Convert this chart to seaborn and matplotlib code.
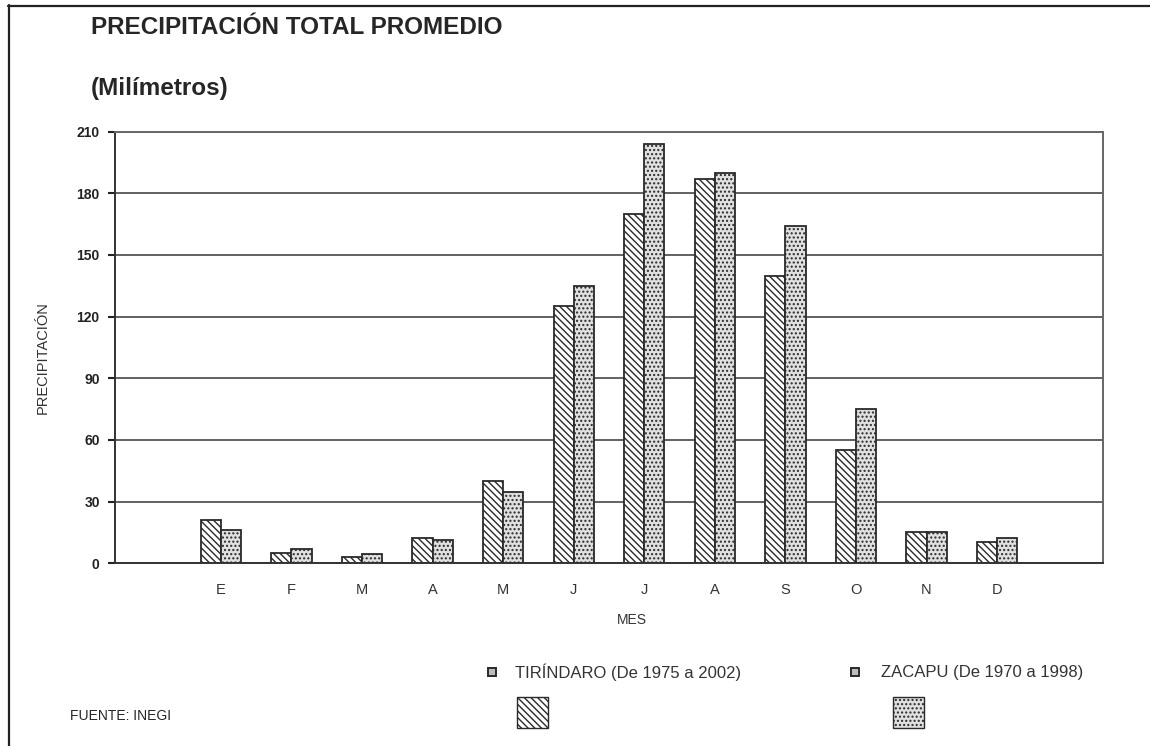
import matplotlib
matplotlib.use("Agg")
import matplotlib.pyplot as plt
import numpy as np
import pandas as pd
import seaborn as sns
from matplotlib.patches import Rectangle
from matplotlib.lines import Line2D

# Monthly mean total precipitation (mm)
claves = ["ENE", "FEB", "MAR", "ABR", "MAY", "JUN", "JUL", "AGO", "SEP", "OCT", "NOV", "DIC"]
etiquetas = ["E", "F", "M", "A", "M", "J", "J", "A", "S", "O", "N", "D"]
tirindaro = [21, 5, 3, 12.5, 40, 125, 170, 187, 140, 55, 15, 10.5]
zacapu = [16, 7, 4.5, 11.5, 34.5, 135, 204, 190, 164, 75, 15, 12.5]
estaciones = ["TIRÍNDARO (De 1975 a 2002)", "ZACAPU (De 1970 a 1998)"]
yticks = [0, 30, 60, 90, 120, 150, 180, 210]

df = pd.DataFrame({
    "mes": claves * 2,
    "mm": tirindaro + zacapu,
    "estacion": [estaciones[0]] * 12 + [estaciones[1]] * 12,
})

sns.set_style("white")
plt.rcParams["font.family"] = ["Liberation Sans", "DejaVu Sans"]
plt.rcParams["hatch.linewidth"] = 1.0

fig = plt.figure(figsize=(11.5, 7.46), dpi=100)
ax = fig.add_axes([0.1, 0.2449, 0.8591, 0.5786])

caras = ["#ffffff", "#e0e0e0"]
tramas = ["\\" * 5, "...."]

sns.barplot(data=df, x="mes", y="mm", hue="estacion", order=claves,
            hue_order=estaciones, palette=caras, width=0.57,
            edgecolor="#2a2a2a", linewidth=1.3, errorbar=None,
            legend=False, ax=ax, saturation=1)

for cont, trama in zip(ax.containers, tramas):
    for barra in cont:
        barra.set_hatch(trama)

ax.set_xlim(-1.5, 12.5)
ax.set_ylim(0, 210)
ax.set_yticks(yticks)
ax.set_yticklabels([str(v) for v in yticks], fontsize=10, fontweight="bold",
                   family=["Liberation Sans Narrow", "Liberation Sans"], color="#222")
ax.set_xticks(range(12))
ax.set_xticklabels(etiquetas, fontsize=10.5, color="#333")
ax.set_xticks(np.arange(-1.5, 13, 1.0), minor=True)
ax.tick_params(axis="x", which="major", length=0, pad=14)
ax.tick_params(axis="x", which="minor", length=5, width=1.2, color="#444", direction="out")
ax.tick_params(axis="y", length=5, width=1.5, color="#222", direction="out", pad=6, left=True)

ax.yaxis.grid(True, color="#555555", linewidth=1.3)
ax.set_axisbelow(True)
for lado, sp in ax.spines.items():
    sp.set_visible(True)
    sp.set_linewidth(1.4)
    sp.set_color("#333" if lado in ("left", "bottom") else "#666")

ax.set_ylabel("PRECIPITACIÓN", fontsize=10.5, color="#333",
              family=["Liberation Sans Narrow", "Liberation Sans"])
ax.yaxis.set_label_coords(-0.066, 0.476)
ax.set_xlabel("MES", fontsize=10, color="#333")
ax.xaxis.set_label_coords(0.523, -0.131)
ax.xaxis.label.set_va("center")

# Titles and source
fig.text(91 / 1150, 1 - 27 / 746, "PRECIPITACIÓN TOTAL PROMEDIO", fontsize=17.5,
         fontweight="bold", va="center", ha="left")
fig.text(91 / 1150, 1 - 89 / 746, "(Milímetros)", fontsize=17.5,
         fontweight="bold", va="center", ha="left")
fig.text(70 / 1150, 1 - 716 / 746, "FUENTE: INEGI", fontsize=10, va="center", ha="left")

# Legend: small marker + text, hatched swatch underneath
W, H = 1150, 746
def caja(x0, y0, w, h, cara, trama, lw=1.0):
    r = Rectangle((x0 / W, 1 - (y0 + h) / H), w / W, h / H, transform=fig.transFigure,
                  facecolor=cara, edgecolor="#2a2a2a", hatch=trama, linewidth=lw)
    fig.add_artist(r)

for i, (xm, xt, xs) in enumerate([(492, 515, 517), (855, 881, 893)]):
    caja(xm - 4, 668, 8, 8, "#bdbdbd", None, lw=1.4)
    fig.text(xt / W, 1 - 672 / H, estaciones[i], fontsize=12, color="#333",
             va="center", ha="left", family=["Liberation Sans Narrow", "Liberation Sans"])
    caja(xs, 697, 31, 31, caras[i], tramas[i])

# Frame around the figure
fig.add_artist(Line2D([8 / W, 1.0], [1 - 5.5 / H, 1 - 5.5 / H], transform=fig.transFigure,
                      color="#222", linewidth=1.6))
fig.add_artist(Line2D([8.5 / W, 8.5 / W], [1 - 5 / H, 0.0], transform=fig.transFigure,
                      color="#222", linewidth=1.6))

fig.savefig("out.png", dpi=100, facecolor="white")
